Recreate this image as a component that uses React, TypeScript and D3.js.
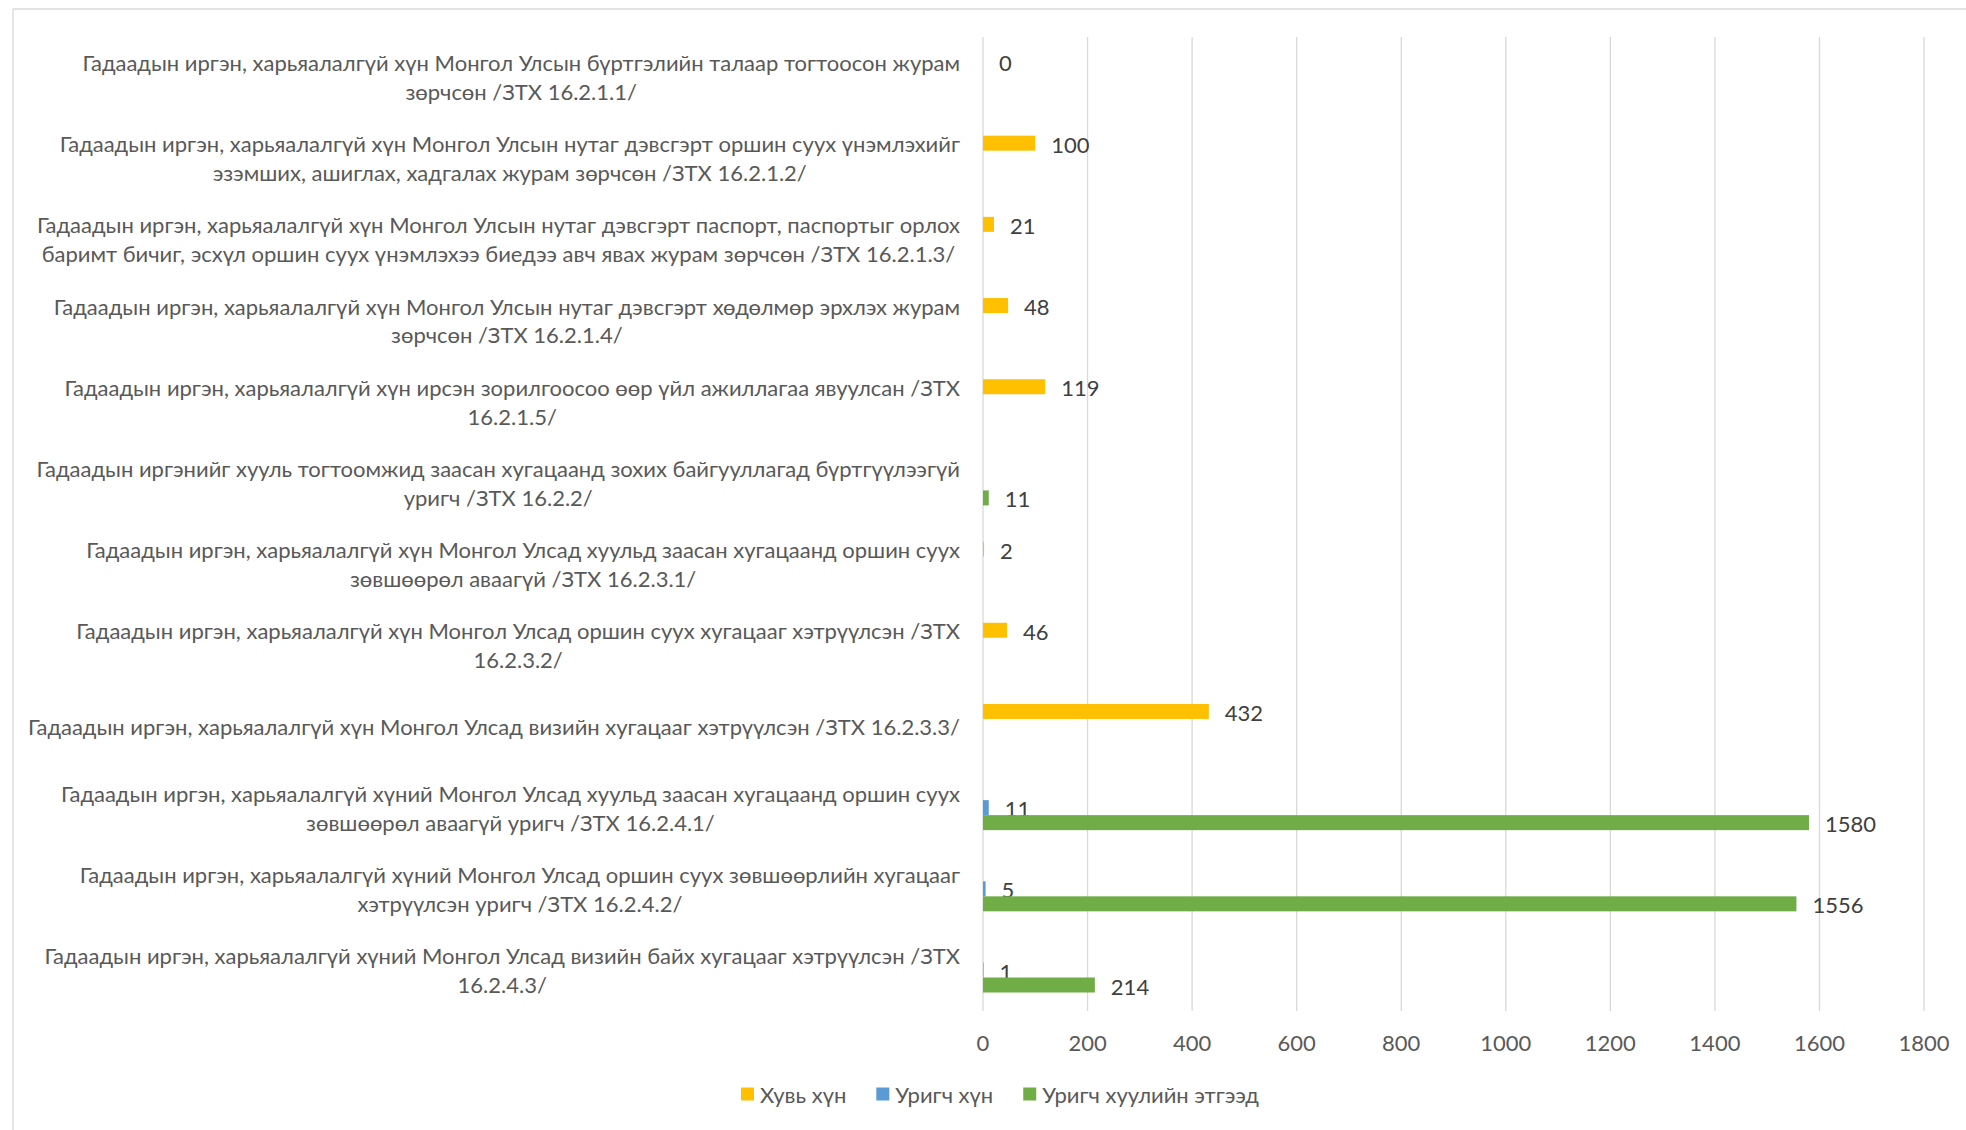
import React, { useMemo } from "react";
import * as d3 from "d3";

const categories: string[][] = [
  ["Гадаадын иргэн, харьяалалгүй хүн Монгол Улсын бүртгэлийн талаар тогтоосон журам", "зөрчсөн /ЗТХ 16.2.1.1/"],
  ["Гадаадын иргэн, харьяалалгүй хүн Монгол Улсын нутаг дэвсгэрт оршин суух үнэмлэхийг", "эзэмших, ашиглах, хадгалах журам зөрчсөн /ЗТХ 16.2.1.2/"],
  ["Гадаадын иргэн, харьяалалгүй хүн Монгол Улсын нутаг дэвсгэрт паспорт, паспортыг орлох", "баримт бичиг, эсхүл оршин суух үнэмлэхээ биедээ авч явах журам зөрчсөн /ЗТХ 16.2.1.3/"],
  ["Гадаадын иргэн, харьяалалгүй хүн Монгол Улсын нутаг дэвсгэрт хөдөлмөр эрхлэх журам", "зөрчсөн /ЗТХ 16.2.1.4/"],
  ["Гадаадын иргэн, харьяалалгүй хүн ирсэн зорилгоосоо өөр үйл ажиллагаа явуулсан /ЗТХ", "16.2.1.5/"],
  ["Гадаадын иргэнийг хууль тогтоомжид заасан хугацаанд зохих байгууллагад бүртгүүлээгүй", "уригч /ЗТХ 16.2.2/"],
  ["Гадаадын иргэн, харьяалалгүй хүн Монгол Улсад хуульд заасан хугацаанд оршин суух", "зөвшөөрөл аваагүй /ЗТХ 16.2.3.1/"],
  ["Гадаадын иргэн, харьяалалгүй хүн Монгол Улсад оршин суух хугацааг хэтрүүлсэн /ЗТХ", "16.2.3.2/"],
  ["Гадаадын иргэн, харьяалалгүй хүн Монгол Улсад визийн хугацааг хэтрүүлсэн /ЗТХ 16.2.3.3/"],
  ["Гадаадын иргэн, харьяалалгүй хүний Монгол Улсад хуульд заасан хугацаанд оршин суух", "зөвшөөрөл аваагүй уригч /ЗТХ 16.2.4.1/"],
  ["Гадаадын иргэн, харьяалалгүй хүний Монгол Улсад оршин суух зөвшөөрлийн хугацааг", "хэтрүүлсэн уригч /ЗТХ 16.2.4.2/"],
  ["Гадаадын иргэн, харьяалалгүй хүний Монгол Улсад визийн байх хугацааг хэтрүүлсэн /ЗТХ", "16.2.4.3/"],
];

const seriesNames = ["Хувь хүн", "Уригч хүн", "Уригч хуулийн этгээд"];
const seriesColors = ["#FFC000", "#5B9BD5", "#70AD47"];

const individual: (number | null)[] = [0, 100, 21, 48, 119, null, 2, 46, 432, null, null, null];
const inviterPerson: (number | null)[] = [null, null, null, null, null, null, null, null, null, 11, 5, 1];
const inviterEntity: (number | null)[] = [null, null, null, null, null, 11, null, null, null, 1580, 1556, 214];

const xTicks = [0, 200, 400, 600, 800, 1000, 1200, 1400, 1600, 1800];

const W = 1966;
const H = 1130;
const FONT = "Lato, 'Liberation Sans', sans-serif";
const FS = 22;

export default function App() {
  const series = [individual, inviterPerson, inviterEntity];
  const x = d3.scaleLinear().domain([0, 1800]).range([983, 1924]);
  const y = d3.scaleBand<number>().domain(d3.range(categories.length)).range([36.4, 1010.6]).paddingInner(0).paddingOuter(0);
  const barH = 15;
  const s = d3.scaleBand<number>().domain([0, 1, 2]).range([-barH * 1.5, barH * 1.5]);

  const measure = useMemo(() => {
    const c = document.createElement("canvas").getContext("2d")!;
    c.font = `${FS}px Lato`;
    return (t: string) => c.measureText(t).width;
  }, []);

  const labelRight = 960;
  const lineGap = 28.8;

  // legend layout
  const legendY = 1094;
  const sq = 13;
  let lx = 741;
  const legendItems = seriesNames.map((n, i) => {
    const item = { n, i, x: lx };
    lx += sq + 6 + measure(n) + 30;
    return item;
  });

  return (
    <svg width={W} height={H} style={{ position: "fixed", top: 0, left: 0, background: "#fff" }} fontFamily={FONT}>
      <rect x={0} y={0} width={W} height={H} fill="#fff" />
      {/* chart area border */}
      <line x1={13} y1={9} x2={W} y2={9} stroke="#d9d9d9" strokeWidth={1.3} />
      <line x1={13} y1={9} x2={13} y2={H} stroke="#d9d9d9" strokeWidth={1.3} />

      {/* gridlines */}
      {xTicks.map((t) => (
        <line key={t} x1={x(t)} x2={x(t)} y1={37} y2={1011} stroke="#d9d9d9" strokeWidth={1.3} />
      ))}
      {/* tick labels */}
      {xTicks.map((t) => (
        <text key={t} x={x(t)} y={1042} textAnchor="middle" dominantBaseline="central" fontSize={FS} fill="#595959">{t}</text>
      ))}

      {/* category labels */}
      {categories.map((lines, ci) => {
        const cy = (y(ci) as number) + y.bandwidth() / 2;
        const bw = Math.max(...lines.map(measure));
        const cx = labelRight - bw / 2;
        const n = lines.length;
        return lines.map((ln, li) => (
          <text key={`${ci}-${li}`} x={cx} y={cy + (li - (n - 1) / 2) * lineGap} textAnchor="middle" dominantBaseline="central" fontSize={FS} fill="#595959">{ln}</text>
        ));
      })}

      {/* bars */}
      {series.map((vals, si) =>
        vals.map((v, ci) => {
          if (v === null) return null;
          const cy = (y(ci) as number) + y.bandwidth() / 2;
          const by = cy + (s(si) as number);
          return (
            <g key={`${si}-${ci}`}>
              <rect x={x(0)} y={by} width={Math.max(0, x(v) - x(0))} height={barH} fill={seriesColors[si]} />
              <text x={x(v) + 16} y={by + barH / 2 + 1} dominantBaseline="central" fontSize={FS} fill="#404040">{v}</text>
            </g>
          );
        })
      )}

      {/* legend */}
      {legendItems.map((it) => (
        <g key={it.n}>
          <rect x={it.x} y={legendY - sq / 2} width={sq} height={sq} fill={seriesColors[it.i]} />
          <text x={it.x + sq + 6} y={legendY} dominantBaseline="central" fontSize={FS} fill="#595959">{it.n}</text>
        </g>
      ))}
    </svg>
  );
}
